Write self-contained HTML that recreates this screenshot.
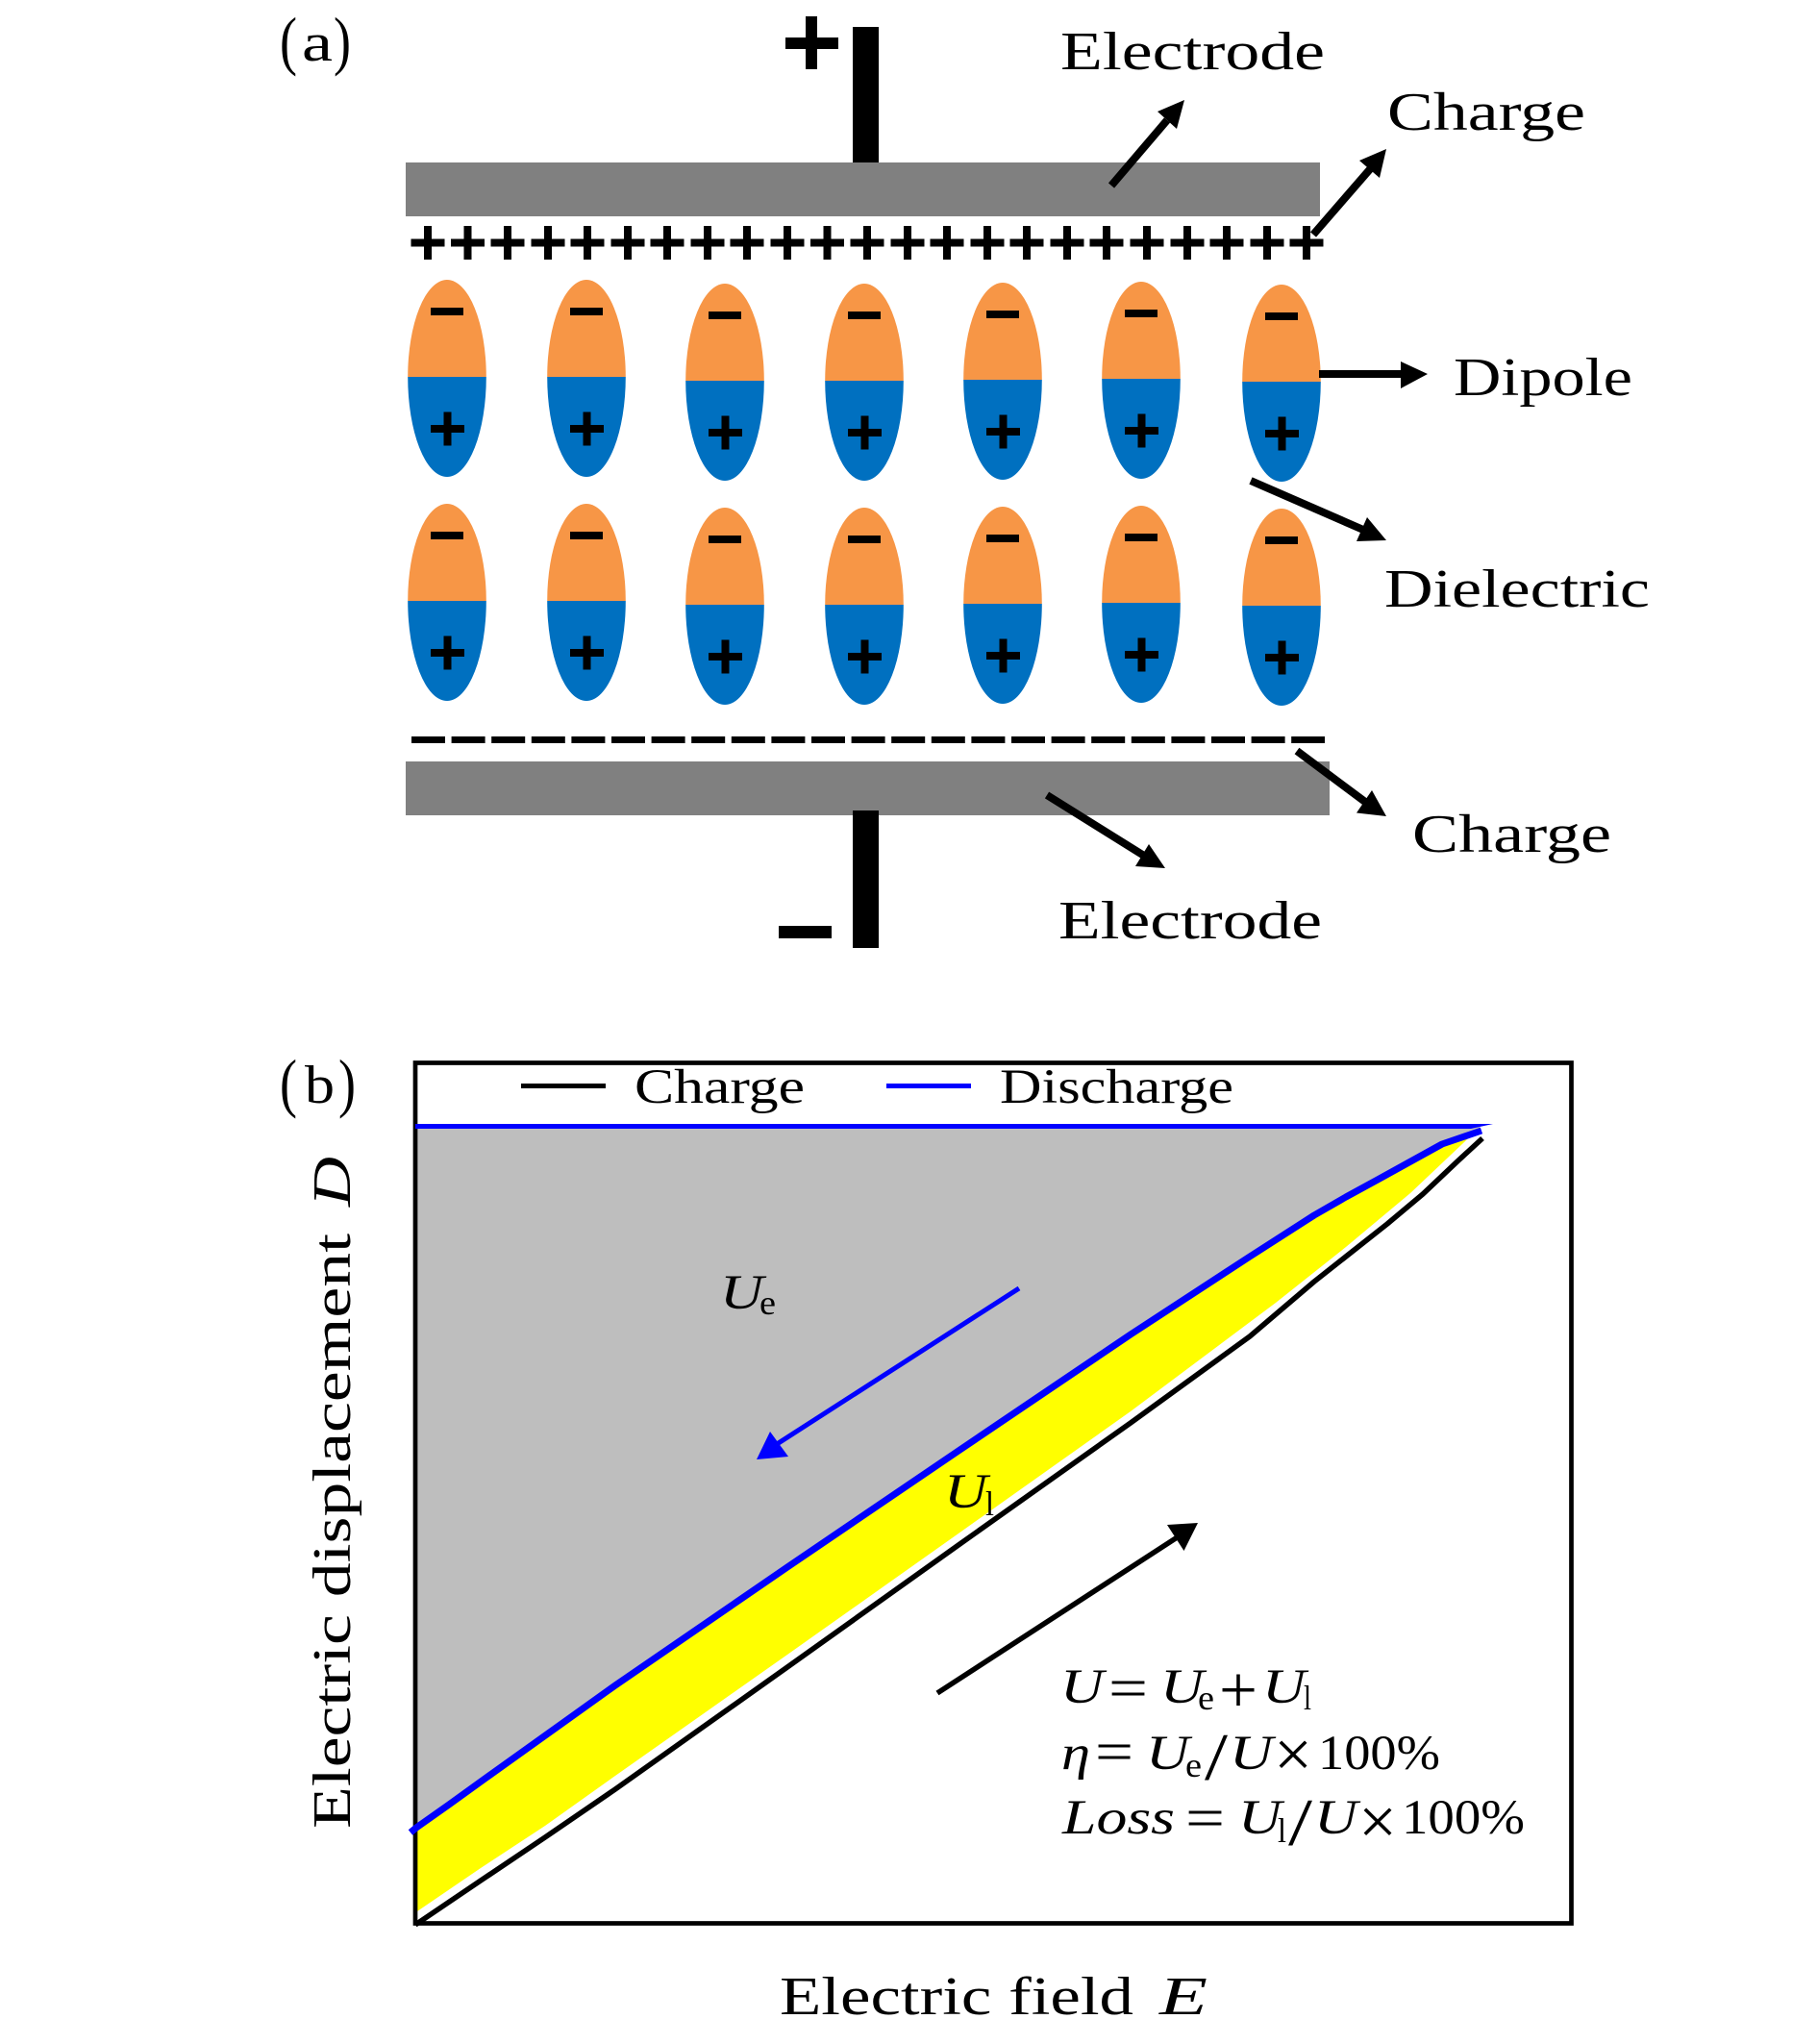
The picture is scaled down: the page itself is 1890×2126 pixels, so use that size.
<!DOCTYPE html>
<html><head><meta charset="utf-8"><style>
html,body{margin:0;padding:0;background:#fff}
svg{display:block}
text{font-family:"Liberation Serif",serif;fill:#000}
.l{font-size:56px}
.m{font-size:51px}
.i{font-style:italic}
.s{font-size:36px}
.o{font-size:60px}
.x{font-size:70px}
.q{font-size:68px}
</style></head><body>
<svg xmlns="http://www.w3.org/2000/svg" width="1890" height="2126" viewBox="0 0 1890 2126">
<defs>
<g id="p"><rect x="-17.5" y="-4" width="35" height="8"/><rect x="-4" y="-17.5" width="8" height="35"/></g>
<g id="d">
<path d="M-40.8 101A40.8 101 0 0 1 40.8 101Z" fill="#f79646"/>
<path d="M-40.8 101A40.8 104 0 0 0 40.8 101Z" fill="#0070c0"/>
<rect x="-17" y="29" width="34" height="8"/>
<use href="#p" x="0.5" y="155"/>
</g>
</defs>
<rect width="1890" height="2126" fill="#fff"/>

<!-- panel a -->
<text class="q" x="291" y="65" textLength="18" lengthAdjust="spacingAndGlyphs">(</text>
<text class="l" x="314" y="63" textLength="32" lengthAdjust="spacingAndGlyphs">a</text>
<text class="q" x="347" y="65" textLength="18" lengthAdjust="spacingAndGlyphs">)</text>
<rect x="838" y="17" width="12" height="55"/><rect x="817" y="39" width="55" height="12"/>
<rect x="887" y="28" width="27" height="142"/>
<rect x="422" y="169" width="951" height="56" fill="#808080"/>
<rect x="422" y="792" width="961" height="56" fill="#808080"/>
<rect x="887" y="843" width="27" height="143"/>
<rect x="810" y="963" width="55" height="13"/>

<g transform="translate(0 252.5)">
<use href="#p" x="445"/><use href="#p" x="486.5"/><use href="#p" x="528"/><use href="#p" x="570"/><use href="#p" x="611"/><use href="#p" x="653"/><use href="#p" x="694"/><use href="#p" x="736"/><use href="#p" x="777"/><use href="#p" x="819"/><use href="#p" x="860.5"/><use href="#p" x="902"/><use href="#p" x="944"/><use href="#p" x="985"/><use href="#p" x="1027"/><use href="#p" x="1068"/><use href="#p" x="1110"/><use href="#p" x="1151"/><use href="#p" x="1193"/><use href="#p" x="1235"/><use href="#p" x="1276"/><use href="#p" x="1318"/><use href="#p" x="1359"/>
</g>
<line x1="428" y1="769.5" x2="1378" y2="769.5" stroke="#000" stroke-width="7" stroke-dasharray="35 6.6"/>

<use href="#d" x="465" y="291"/><use href="#d" x="610" y="291"/><use href="#d" x="754" y="295"/><use href="#d" x="899" y="295"/><use href="#d" x="1043" y="294"/><use href="#d" x="1187" y="293"/><use href="#d" x="1333" y="296"/>
<use href="#d" x="465" y="524"/><use href="#d" x="610" y="524"/><use href="#d" x="754" y="528"/><use href="#d" x="899" y="528"/><use href="#d" x="1043" y="527"/><use href="#d" x="1187" y="526"/><use href="#d" x="1333" y="529"/>

<!-- arrows a -->
<g stroke="#000" stroke-width="8" fill="none">
<line x1="1156" y1="193" x2="1214" y2="125"/>
<line x1="1366" y1="244" x2="1425" y2="176"/>
<line x1="1372" y1="389" x2="1460" y2="389"/>
<line x1="1301" y1="500" x2="1418" y2="551"/>
<line x1="1349" y1="781" x2="1420" y2="834"/>
<line x1="1089" y1="827" x2="1190" y2="890"/>
</g>
<polygon points="1232,104 1204,116 1224,134"/>
<polygon points="1442,155 1414,167 1435,185"/>
<polygon points="1485,389 1457,376 1457,404"/>
<polygon points="1442,562 1422,538 1411,563"/>
<polygon points="1442,849 1427,822 1411,845.5"/>
<polygon points="1212,903 1195,878 1181,901"/>

<text class="l" x="1103" y="72" textLength="275" lengthAdjust="spacingAndGlyphs">Electrode</text>
<text class="l" x="1443" y="135" textLength="206" lengthAdjust="spacingAndGlyphs">Charge</text>
<text class="l" x="1512" y="411" textLength="186" lengthAdjust="spacingAndGlyphs">Dipole</text>
<text class="l" x="1440" y="631" textLength="276" lengthAdjust="spacingAndGlyphs">Dielectric</text>
<text class="l" x="1469" y="886" textLength="207" lengthAdjust="spacingAndGlyphs">Charge</text>
<text class="l" x="1101" y="976" textLength="274" lengthAdjust="spacingAndGlyphs">Electrode</text>

<!-- panel b -->
<text class="q" x="291" y="1149" textLength="18" lengthAdjust="spacingAndGlyphs">(</text>
<text class="l" x="317" y="1147" textLength="31" lengthAdjust="spacingAndGlyphs">b</text>
<text class="q" x="352" y="1149" textLength="18" lengthAdjust="spacingAndGlyphs">)</text>
<polygon fill="#bebebe" points="434,1172 1540,1172 1533,1178 1500,1190 1433,1227 1400,1245 1367,1264 1300,1307 1176,1388 997,1509 819,1630 640,1753 510,1846 467,1877 433,1901"/>
<polygon fill="#ffff00" points="434,1901 467,1877 510,1846 640,1753 819,1630 997,1509 1176,1388 1300,1307 1367,1264 1400,1245 1433,1227 1500,1190 1533,1178 1523,1188 1467,1241 1400,1297 1327,1355 1176,1468 997,1595 819,1721 640,1847 567,1899 500,1943 434,1988"/>
<rect x="432" y="1105.5" width="1202.5" height="895" fill="none" stroke="#000" stroke-width="4.7"/>
<polygon fill="#0000ff" points="432,1169 1553,1169 1530,1174 432,1174"/>
<polyline fill="none" stroke="#0000ff" stroke-width="7" stroke-linejoin="round" points="427,1906 433,1901 467,1877 510,1846 640,1753 819,1630 997,1509 1176,1388 1300,1307 1367,1264 1400,1245 1433,1227 1500,1190 1541,1176"/>
<polyline fill="none" stroke="#000" stroke-width="5.5" stroke-linejoin="round" points="432,2002 500,1956 567,1911 640,1861 819,1734 997,1607 1176,1480 1300,1390 1367,1333 1443,1273 1480,1242 1517,1207 1542,1184"/>

<rect x="542" y="1127" width="88" height="5"/>
<rect x="922" y="1127" width="88" height="5" fill="#0000ff"/>
<text class="m" x="660" y="1147" textLength="177" lengthAdjust="spacingAndGlyphs">Charge</text>
<text class="m" x="1040" y="1147" textLength="243" lengthAdjust="spacingAndGlyphs">Discharge</text>

<line x1="1060" y1="1340" x2="805" y2="1504" stroke="#0000ff" stroke-width="5"/>
<polygon fill="#0000ff" points="787,1518 801,1489 820,1515"/>
<line x1="975" y1="1761" x2="1226" y2="1598" stroke="#000" stroke-width="5.5"/>
<polygon points="1246,1584 1214,1586 1231.5,1613"/>

<text class="m i" x="749" y="1361" textLength="45" lengthAdjust="spacingAndGlyphs">U</text>
<text class="s" x="790" y="1367" textLength="17" lengthAdjust="spacingAndGlyphs">e</text>
<text class="m i" x="982" y="1568" textLength="45" lengthAdjust="spacingAndGlyphs">U</text>
<text class="s" x="1025" y="1576" textLength="9" lengthAdjust="spacingAndGlyphs">l</text>

<text class="m i" x="1103" y="1771" textLength="45" lengthAdjust="spacingAndGlyphs">U</text>
<text class="o" x="1153" y="1776" textLength="41" lengthAdjust="spacingAndGlyphs">=</text>
<text class="m i" x="1207" y="1771" textLength="45" lengthAdjust="spacingAndGlyphs">U</text>
<text class="s" x="1246" y="1778" textLength="17" lengthAdjust="spacingAndGlyphs">e</text>
<text class="x" x="1268" y="1781" textLength="40" lengthAdjust="spacingAndGlyphs">+</text>
<text class="m i" x="1313" y="1771" textLength="45" lengthAdjust="spacingAndGlyphs">U</text>
<text class="s" x="1356" y="1778" textLength="8" lengthAdjust="spacingAndGlyphs">l</text>

<text class="m i" x="1104" y="1840" textLength="30" lengthAdjust="spacingAndGlyphs">η</text>
<text class="o" x="1139" y="1842" textLength="40" lengthAdjust="spacingAndGlyphs">=</text>
<text class="m i" x="1192" y="1840" textLength="45" lengthAdjust="spacingAndGlyphs">U</text>
<text class="s" x="1233" y="1848" textLength="17" lengthAdjust="spacingAndGlyphs">e</text>
<text class="x" x="1253" y="1851" textLength="24" lengthAdjust="spacingAndGlyphs">/</text>
<text class="m i" x="1279" y="1840" textLength="45" lengthAdjust="spacingAndGlyphs">U</text>
<text class="x" x="1325" y="1848" textLength="40" lengthAdjust="spacingAndGlyphs">×</text>
<text class="m" x="1371" y="1840" textLength="127" lengthAdjust="spacingAndGlyphs">100%</text>

<text class="m i" x="1105" y="1907" textLength="117" lengthAdjust="spacingAndGlyphs">Loss</text>
<text class="o" x="1233" y="1911" textLength="41" lengthAdjust="spacingAndGlyphs">=</text>
<text class="m i" x="1288" y="1907" textLength="45" lengthAdjust="spacingAndGlyphs">U</text>
<text class="s" x="1329" y="1916" textLength="9" lengthAdjust="spacingAndGlyphs">l</text>
<text class="x" x="1340" y="1919" textLength="25" lengthAdjust="spacingAndGlyphs">/</text>
<text class="m i" x="1367" y="1907" textLength="45" lengthAdjust="spacingAndGlyphs">U</text>
<text class="x" x="1413" y="1918" textLength="40" lengthAdjust="spacingAndGlyphs">×</text>
<text class="m" x="1458" y="1907" textLength="128" lengthAdjust="spacingAndGlyphs">100%</text>

<text class="l" x="811" y="2095" textLength="368" lengthAdjust="spacingAndGlyphs">Electric field</text>
<text class="l i" x="1206" y="2095" textLength="50" lengthAdjust="spacingAndGlyphs">E</text>
<g transform="translate(364 1902) rotate(-90)">
<text class="l" x="0" y="0" textLength="619" lengthAdjust="spacingAndGlyphs">Electric displacement</text>
<text class="l i" x="647" y="0" textLength="52" lengthAdjust="spacingAndGlyphs">D</text>
</g>
</svg>
</body></html>
